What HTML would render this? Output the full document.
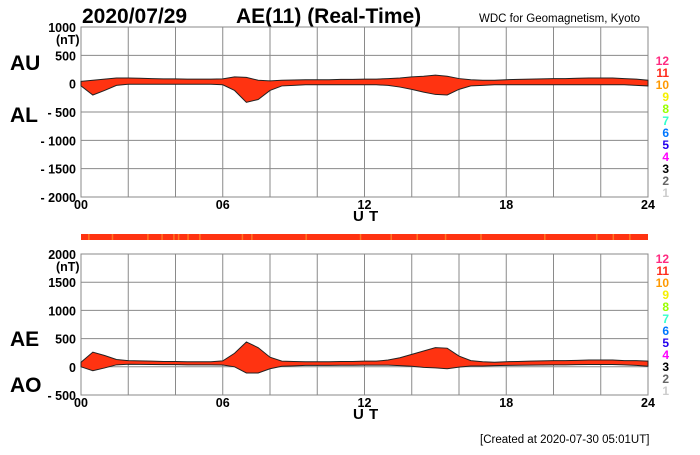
<!DOCTYPE html>
<html><head><meta charset="utf-8"><style>
body{margin:0;background:#fff;width:700px;height:450px;overflow:hidden;font-family:"Liberation Sans",sans-serif}
svg text{font-family:"Liberation Sans",sans-serif;font-weight:bold}
</style></head><body>
<svg id="c" width="700" height="450">
<text x="82" y="23" font-size="21">2020/07/29</text>
<text x="236" y="23" font-size="21">AE(11) (Real-Time)</text>
<text x="479" y="22" font-size="11.5" style="font-weight:normal">WDC for Geomagnetism, Kyoto</text>
<text x="10" y="70" font-size="21">AU</text>
<text x="10" y="122" font-size="21">AL</text>
<text x="10" y="346" font-size="21">AE</text>
<text x="10" y="392" font-size="21">AO</text>
<text x="480" y="443" font-size="11.5" style="font-weight:normal">[Created at 2020-07-30 05:01UT]</text>
</svg>
<script>
const hours=[];for(let i=0;i<=48;i++)hours.push(i/2);
const auValues=[40,60,80,100,100,95,90,85,85,80,80,80,85,120,110,60,50,60,65,70,70,70,75,75,80,80,90,100,120,130,150,130,90,70,60,60,70,75,80,85,90,90,95,100,100,100,90,80,60];
const alValues=[-40,-200,-120,-30,-10,-10,-10,-10,-10,-10,-10,-10,-20,-120,-330,-280,-120,-40,-30,-20,-20,-20,-20,-20,-20,-20,-30,-60,-100,-150,-190,-200,-100,-40,-30,-20,-20,-20,-20,-20,-20,-20,-20,-20,-20,-20,-20,-30,-40];
const topTicks=[1000,500,0,-500,-1000,-1500,-2000];
const topTickLabels=["1000","500","0","- 500","- 1000","- 1500","- 2000"];
const botTicks=[2000,1500,1000,500,0,-500];
const botTickLabels=["2000","1500","1000","500","0","- 500"];
const xTicks=[0,6,12,18,24];
const xTickLabels=["00","06","12","18","24"];
const legendNums=["12","11","10","9","8","7","6","5","4","3","2","1"];
const legendColors=["#ff2a80","#ff2a1a","#ff9900","#f5f000","#99ff00","#33ffcc","#0077ff","#2200ee","#ff00ff","#000","#666","#ccc"];
const yellowStripeHours=[0.3,1.3,2.8,3.4,3.9,4.1,4.5,5.0,6.8,7.2,9.5,11.8,13.1,14.2,15.4,16.9,19.6,21.8,22.5,23.2];

const svg=document.getElementById('c');const NS='http://www.w3.org/2000/svg';
function mk(t,a,p){const e=document.createElementNS(NS,t);for(const k in a)e.setAttribute(k,a[k]);(p||svg).appendChild(e);return e;}
const X0=81,X1=648;const xs=h=>X0+(X1-X0)*h/24;
function panel(name,top,bot,vmax,vmin,ticks,labels,upper,lower,legTop){
  const ys=v=>top+(vmax-v)/(vmax-vmin)*(bot-top);
  const g=mk('g',{});
  for(let h=0;h<=24;h+=2){const l=mk('line',{x1:xs(h),x2:xs(h),y1:top,y2:bot,stroke:'#8a8a8a','stroke-width':1},g);}
  ticks.forEach((v,i)=>{const l=mk('line',{x1:X0,x2:X1,y1:ys(v),y2:ys(v),stroke:'#8a8a8a','stroke-width':1},g);
    const t=mk('text',{x:76,y:ys(v)+5,'font-size':12.5,'text-anchor':'end'},g);t.textContent=labels[i];});
  const u=mk('text',{x:56,y:ys(ticks[0])+17,'font-size':12.5},g);u.textContent='(nT)';
  mk('rect',{x:X0,y:top,width:X1-X0,height:bot-top,fill:'none',stroke:'#888'},g);
  let pts=hours.map((h,i)=>xs(h)+','+ys(upper[i]));
  for(let i=hours.length-1;i>=0;i--)pts.push(xs(hours[i])+','+ys(lower[i]));
  const p=mk('polygon',{points:pts.join(' '),fill:'#ff3311',stroke:'#222','stroke-width':1},g);
  xTicks.forEach((h,i)=>{const t=mk('text',{x:xs(h),y:bot+12,'font-size':12.5,'text-anchor':'middle'},g);t.textContent=xTickLabels[i];});
  const u1=mk('text',{x:353,y:bot+24,'font-size':15},g);u1.textContent='U';
  const u2=mk('text',{x:369,y:bot+24,'font-size':15},g);u2.textContent='T';
  legendNums.forEach((n,i)=>{const t=mk('text',{x:669,y:legTop+i*12,'font-size':12,'text-anchor':'end',fill:legendColors[i]},g);t.textContent=n;});
}
panel('au-al',27,197,1000,-2000,topTicks,topTickLabels,auValues,alValues,65);
const aeValues=auValues.map((v,i)=>v-alValues[i]);
const aoValues=auValues.map((v,i)=>(v+alValues[i])/2);
panel('ae-ao',254,395,2000,-500,botTicks,botTickLabels,aeValues,aoValues,263);
const strip=mk('rect',{x:X0,y:234,width:X1-X0,height:6,fill:'#ff3311'});


yellowStripeHours.forEach(h=>{const r=mk('rect',{x:xs(h),y:234,width:1.5,height:6,fill:'#ff7722'});

});
</script>
</body></html>
